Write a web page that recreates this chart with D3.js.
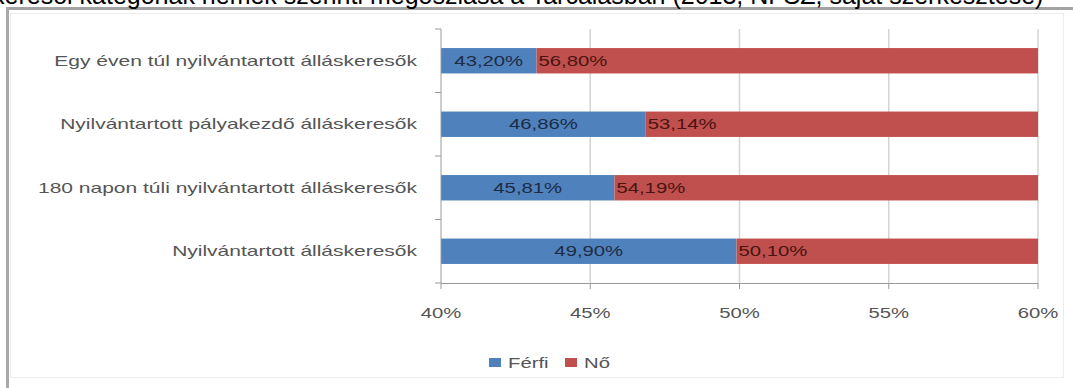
<!DOCTYPE html>
<html><head><meta charset="utf-8">
<script src="https://cdn.jsdelivr.net/npm/d3@7"></script>
<style>html,body{margin:0;padding:0;background:#fff;overflow:hidden}</style>
</head><body>
<svg id="c" width="1073" height="388"></svg>
<script>
const categories = ["Egy éven túl nyilvántartott álláskeresők", "Nyilvántartott pályakezdő álláskeresők", "180 napon túli nyilvántartott álláskeresők", "Nyilvántartott álláskeresők"];
const ferfi = [43.20, 46.86, 45.81, 49.90];
const no = [56.80, 53.14, 54.19, 50.10];
const ferfiLabels = ["43,20%", "46,86%", "45,81%", "49,90%"];
const noLabels = ["56,80%", "53,14%", "54,19%", "50,10%"];
const ticks = [40, 45, 50, 55, 60];
const tickLabels = ["40%", "45%", "50%", "55%", "60%"];
const seriesNames = ["Férfi", "Nő"];
const colors = ["#4f81bd", "#c0504d"];
const title = "keresői kategóriák nemek szerinti megoszlása a Tarcalásban (2013, NFSZ, saját szerkesztése)";

const svg = d3.select("#c");
const FONT = "Liberation Sans, Arial, sans-serif";

// frame
svg.append("rect").attr("x", 10.5).attr("y", 13.5).attr("width", 1053).attr("height", 364)
  .attr("fill", "none").attr("stroke", "#ececec");
svg.append("line").attr("x1", 7).attr("x2", 1073).attr("y1", 8.5).attr("y2", 8.5).attr("stroke", "#a3a3a3").attr("stroke-width", 3);
svg.append("line").attr("x1", 7.5).attr("x2", 7.5).attr("y1", 7).attr("y2", 388).attr("stroke", "#a8a8a8").attr("stroke-width", 3);

// title (clipped at top, as in the reference)
svg.append("text").attr("x", -8).attr("y", 4).attr("font-family", FONT).attr("font-size", 25)
  .attr("fill", "#000").text(title);

const x = d3.scaleLinear().domain([40, 60]).range([441, 1038]);
const y = d3.scaleBand().domain(categories).range([29, 283]).paddingInner(0.6).paddingOuter(0.3);

// gridlines
svg.append("g").selectAll("line").data(ticks.slice(1)).join("line")
  .attr("x1", d => x(d)).attr("x2", d => x(d)).attr("y1", 29).attr("y2", 283)
  .attr("stroke", "#d4d4d4").attr("stroke-width", 1.5);

svg.append("defs").append("clipPath").attr("id", "pc").append("rect")
  .attr("x", x(40)).attr("y", 0).attr("width", x(60) - x(40)).attr("height", 388);

const plot = svg.append("g").attr("clip-path", "url(#pc)");
plot.selectAll("rect.f").data(categories).join("rect").attr("class", "f")
  .attr("x", x(40)).attr("y", d => y(d)).attr("height", y.bandwidth())
  .attr("width", (d, i) => x(ferfi[i]) - x(40)).attr("fill", colors[0]);
plot.selectAll("rect.n").data(categories).join("rect").attr("class", "n")
  .attr("x", (d, i) => x(ferfi[i])).attr("y", d => y(d)).attr("height", y.bandwidth())
  .attr("width", (d, i) => x(ferfi[i] + no[i]) - x(ferfi[i])).attr("fill", colors[1]);

function stext(parent, px, py, str, anchor, size, fill, sx) {
  const g = parent.append("g").attr("transform", `translate(${px},${py}) scale(${sx},1)`);
  g.append("text").attr("text-anchor", anchor).attr("dy", "0.35em")
    .attr("font-family", FONT).attr("font-size", size).attr("fill", fill).text(str);
  return g;
}

// value labels
categories.forEach((c, i) => {
  const cy = y(c) + y.bandwidth() / 2;
  stext(svg, (x(40) + x(ferfi[i])) / 2, cy, ferfiLabels[i], "middle", 14, "#1d2c44", 1.45);
  stext(svg, x(ferfi[i]) + 2, cy, noLabels[i], "start", 14, "#4a1412", 1.45);
});

// y axis
svg.append("line").attr("x1", x(40)).attr("x2", x(40)).attr("y1", 29).attr("y2", 283).attr("stroke", "#9a9a9a");
const bounds = [0, 1, 2, 3, 4].map(k => 29 + k * (254 / 4));
svg.append("g").selectAll("line").data(bounds).join("line")
  .attr("x1", x(40) - 6).attr("x2", x(40)).attr("y1", d => d).attr("y2", d => d).attr("stroke", "#9a9a9a");
categories.forEach(c => {
  stext(svg, 417, y(c) + y.bandwidth() / 2, c, "end", 14, "#555", 1.5);
});

// x axis
const xa = svg.append("g");
xa.append("line").attr("x1", x(40)).attr("x2", x(60)).attr("y1", 283.5).attr("y2", 283.5).attr("stroke", "#9a9a9a");
xa.selectAll("line.t").data(ticks).join("line").attr("class", "t")
  .attr("x1", d => x(d)).attr("x2", d => x(d)).attr("y1", 283).attr("y2", 289).attr("stroke", "#9a9a9a");
ticks.forEach((t, i) => stext(svg, x(t), 313, tickLabels[i], "middle", 14, "#555", 1.45));

// legend
const lx = [489, 565];
seriesNames.forEach((s, i) => {
  svg.append("rect").attr("x", lx[i]).attr("y", 358).attr("width", 12).attr("height", 9).attr("fill", colors[i]);
  stext(svg, lx[i] + 19, 363, s, "start", 14, "#555", 1.45);
});
</script>
</body></html>
